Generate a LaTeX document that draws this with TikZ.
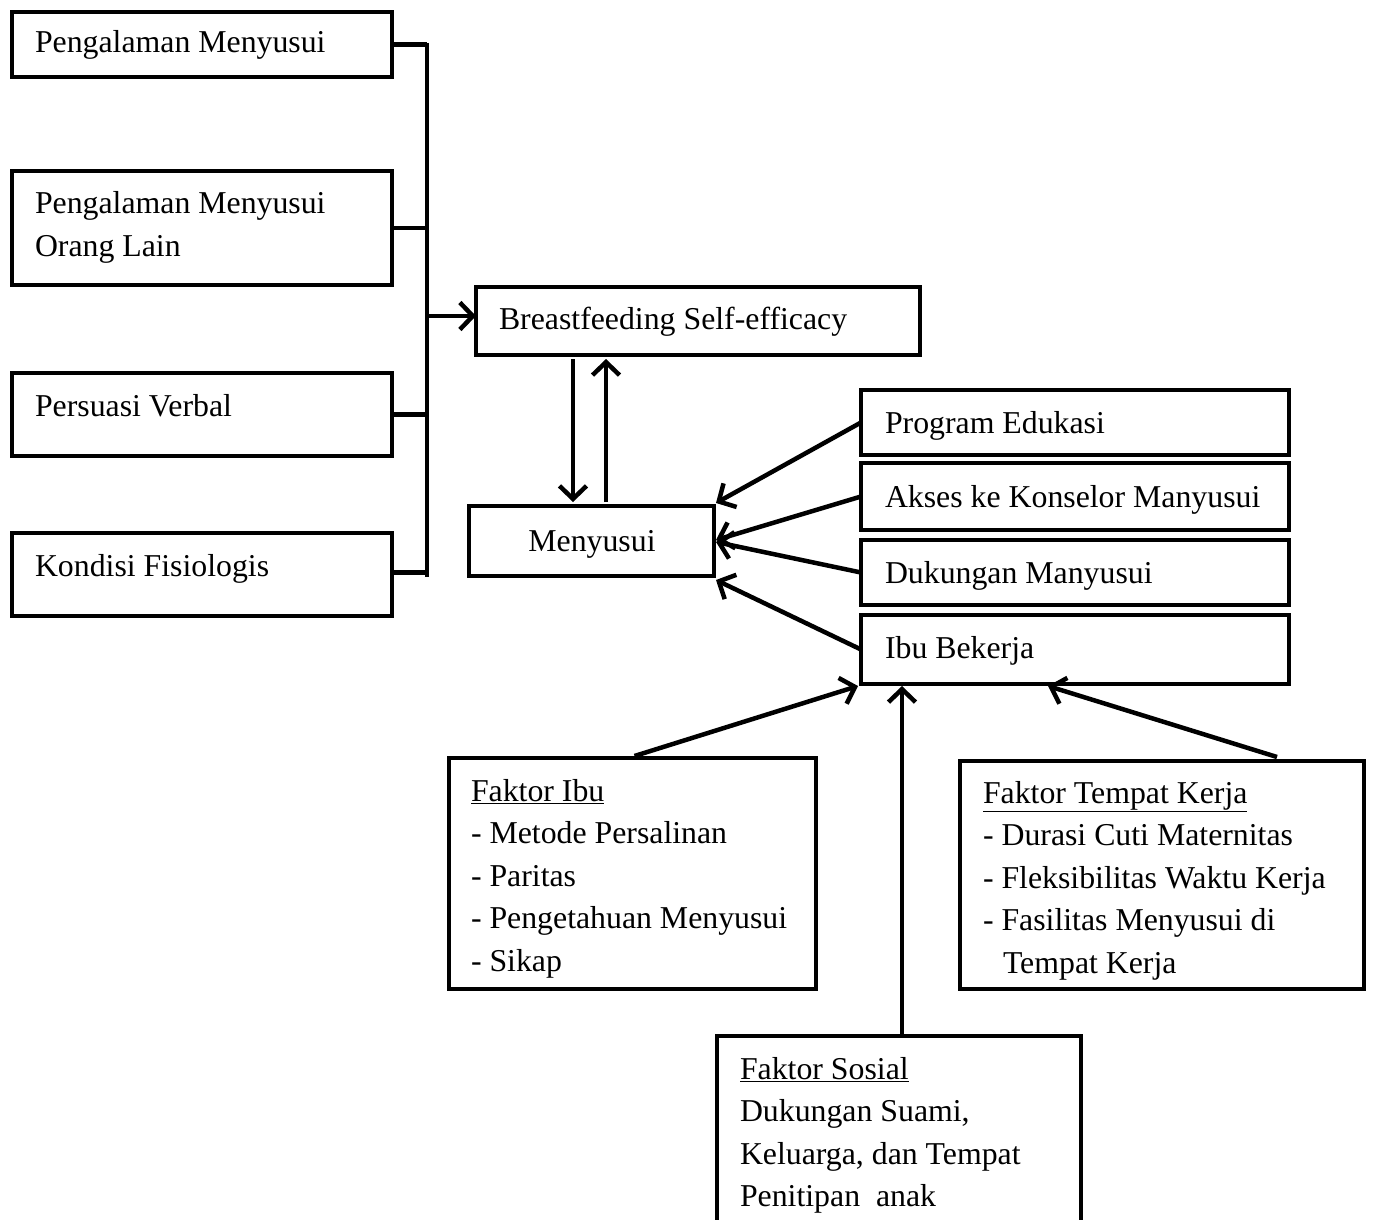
\documentclass[tikz,border=0pt]{standalone}
\usepackage{fontspec}
\setmainfont{Liberation Serif}
\usetikzlibrary{arrows.meta,calc}
\begin{document}
\begin{tikzpicture}[x=1pt,y=-1pt,
  box/.style={draw, line width=4.5pt, inner sep=0pt, outer sep=0pt, anchor=north west},
  txt/.style={font=\fontsize{31.8}{42.5}\selectfont, inner sep=0pt, outer sep=0pt, anchor=base west, align=left},
  line/.style={line width=4.5pt},
  arr/.style={line width=4.5pt, -{Straight Barb[length=13pt,width=27pt,line width=4.5pt]}}]
\useasboundingbox (0,0) rectangle (1373,1220);
\clip (0,0) rectangle (1373,1220);
% left boxes
\node[box, minimum width=380pt, minimum height=65pt] (b1) at (12,12) {};
\node[box, minimum width=380pt, minimum height=114pt] (b2) at (12,171) {};
\node[box, minimum width=380pt, minimum height=83pt] (b3) at (12,373) {};
\node[box, minimum width=380pt, minimum height=83pt] (b4) at (12,533) {};
\node[txt] (t1) at (35,53) {Pengalaman Menyusui};
\node[txt] (t2) at (35,256) {Pengalaman Menyusui\\Orang Lain};
\node[txt] (t3) at (35,416) {Persuasi Verbal};
\node[txt] (t4) at (35,576) {Kondisi Fisiologis};
% centre boxes
\node[box, minimum width=444pt, minimum height=68pt] (bse) at (476,287) {};
\node[txt] (tbse) at (499,329) {Breastfeeding Self-efficacy};
\node[box, minimum width=245pt, minimum height=70pt] (men) at (469,506) {};
\node[txt, anchor=base] (tmen) at (592,551) {Menyusui};
% right boxes
\node[box, minimum width=428pt, minimum height=65pt] (pe) at (861,390) {};
\node[box, minimum width=428pt, minimum height=67pt] (ak) at (861,463) {};
\node[box, minimum width=428pt, minimum height=65pt] (dm) at (861,540) {};
\node[box, minimum width=428pt, minimum height=69pt] (ib) at (861,615) {};
\node[txt] (tpe) at (885,433) {Program Edukasi};
\node[txt] (tak) at (885,507) {Akses ke Konselor Manyusui};
\node[txt] (tdm) at (885,583) {Dukungan Manyusui};
\node[txt] (tib) at (885,658) {Ibu Bekerja};
% factor boxes
\node[box, minimum width=367pt, minimum height=231pt] (fi) at (449,758) {};
\node[txt] (tfi) at (471,971) {\underline{Faktor Ibu}\\- Metode Persalinan\\- Paritas\\- Pengetahuan Menyusui\\- Sikap};
\node[box, minimum width=404pt, minimum height=228pt] (ftk) at (960,761) {};
\node[txt] (tftk) at (983,973) {\underline{Faktor Tempat Kerja}\\- Durasi Cuti Maternitas\\- Fleksibilitas Waktu Kerja\\- Fasilitas Menyusui di\\\hspace*{20pt}Tempat Kerja};
\node[box, minimum width=364pt, minimum height=250pt] (fs) at (717,1036) {};
\node[txt] (tfs) at (740,1206.5) {\underline{Faktor Sosial}\\Dukungan Suami,\\Keluarga, dan Tempat\\Penitipan\ \ anak};
% left bus
\coordinate (bustop) at (427,43);
\coordinate (busbot) at (427,577);
\draw[line] (bustop) -- (busbot);
\draw[line] (b1.east) -- (b1.east -| bustop);
\draw[line] (b2.east) -- (b2.east -| bustop);
\draw[line] (b3.east) -- (b3.east -| bustop);
\draw[line] ($(b4.east)+(0,-2)$) -- ($(b4.east -| bustop)+(0,-2)$);
\coordinate (busout) at (427,316);
\draw[arr] (busout) -- (busout -| bse.west);
% between BSE and Menyusui
\coordinate (dn) at (573,0);
\coordinate (up) at (606,0);
\draw[arr, shorten <=4pt, shorten >=4pt] (bse.south -| dn) -- (men.north -| dn);
\draw[arr, shorten <=4pt, shorten >=4pt] (men.north -| up) -- (bse.south -| up);
% right boxes to Menyusui
\draw[arr] (pe.west) -- ($(men.north east)+(2,-3)$);
\draw[arr] (ak.west) -- ($(men.east)+(2,-1)$);
\draw[arr] (dm.west) -- ($(men.east)+(2,1)$);
\draw[arr] (ib.west) -- ($(men.south east)+(2,4)$);
% factors to Ibu Bekerja
\draw[arr] ($(fi.north)+(2,-2)$) -- ($(ib.south west)+(-3,2)$);
\coordinate (fsx) at (902,0);
\draw[arr] (fs.north -| fsx) -- ($(ib.south -| fsx)+(0,2)$);
\coordinate (ftkstart) at (1277,757);
\coordinate (ftkend) at (1048,686);
\draw[arr] (ftkstart) -- (ftkend);
\end{tikzpicture}
\end{document}
